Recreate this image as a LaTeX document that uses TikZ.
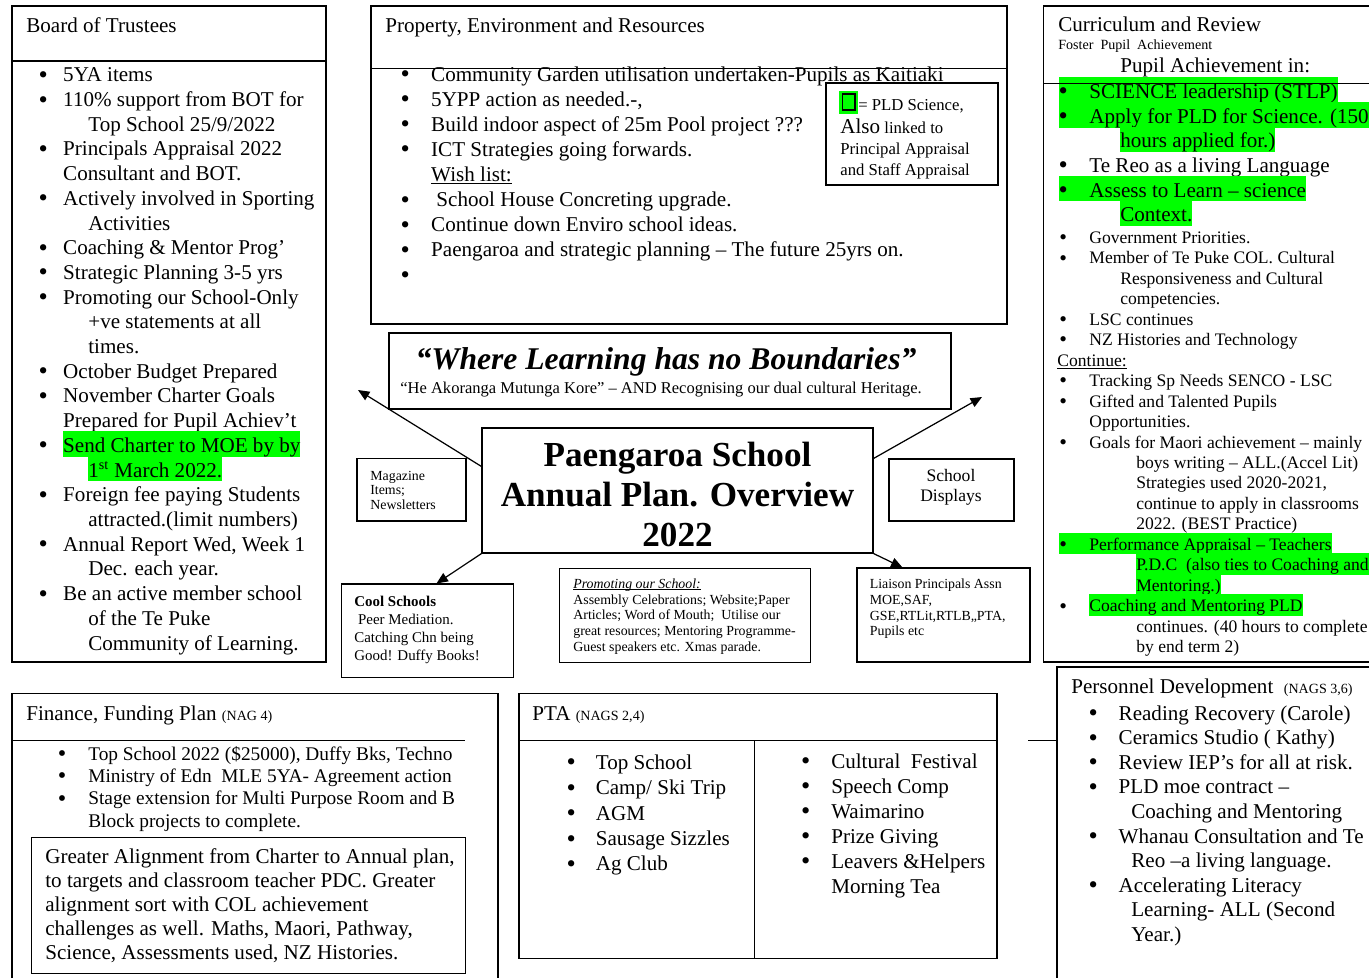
\documentclass[tikz,border=0pt]{standalone}
\usepackage{fontspec}
\setmainfont{Liberation Serif}
\usetikzlibrary{arrows.meta, positioning, calc, fit}
\definecolor{hlgreen}{RGB}{0,255,0}
\newlength{\bulw}
\newlength{\hangw}
\newcommand{\bul}{\makebox[\bulw][l]{\raisebox{-0.07em}{\scalebox{1.25}{\textbullet}}}}
\newcommand{\nobul}{\hspace*{\bulw}}
\newcommand{\ind}[1][\hangw]{\hspace*{#1}}
\newcommand{\hlt}[1]{{\setlength{\fboxsep}{0pt}\colorbox{hlgreen}{\vrule width 0pt height 0.85\baselineskip depth 0.15\baselineskip #1}}}
\newcommand{\uln}[1]{\setbox0\hbox{#1}\rlap{\rule[-0.14em]{\wd0}{0.06em}}\box0}
\setlength{\lineskiplimit}{-50pt}

\begin{document}
\begin{tikzpicture}[
  x=0.02cm, y=-0.02cm,
  panel/.style={draw, line width=0.6pt, inner sep=0pt},
  divider/.style={line width=0.6pt},
  hd/.style={anchor=base west, inner sep=0pt, font=\fontsize{12}{14}\selectfont},
  txt/.style={anchor=base west, inner sep=0pt, align=left},
  arrow/.style={-{Triangle[length=6.5pt, width=5.5pt]}, line width=0.7pt},
  bw/.code={\setlength{\bulw}{#1}},
  hw/.code={\setlength{\hangw}{#1}}
]
\useasboundingbox (0,0) rectangle (1369,978);
\fill[white] (0,0) rectangle (1369,978);

% Board of Trustees (lists sit on the baseline of their last line)
\node[panel, fit={(12,6) (326,662)}] (bot) {};
\draw[divider] (12,61) -- (326,61);
\node[hd] (bottitle) at (26,32) {Board of Trustees};
\node[txt, font=\fontsize{12}{14.06}\selectfont, bw=14pt, hw=28.3pt] (botlist) at (38.3,650) {%
\bul 5YA items\\
\bul 110\% support from BOT for\\
\ind Top School 25/9/2022\\
\bul Principals Appraisal 2022\\
\nobul Consultant and BOT.\\
\bul Actively involved in Sporting\\
\ind Activities\\
\bul Coaching \& Mentor Prog’\\
\bul Strategic Planning 3-5 yrs\\
\bul Promoting our School-Only\\
\ind +ve statements at all\\
\ind times.\\
\bul October Budget Prepared\\
\bul November Charter Goals\\
\nobul Prepared for Pupil Achiev’t\\
\bul \hlt{Send Charter to MOE by by}\\
\ind \hlt{1\textsuperscript{st} March 2022.}\\
\bul Foreign fee paying Students\\
\ind attracted.(limit numbers)\\
\bul Annual Report Wed, Week 1\\
\ind Dec. each year.\\
\bul Be an active member school\\
\ind of the Te Puke\\
\ind Community of Learning.};

% Property, Environment and Resources
\node[panel, fit={(371,6) (1007,324)}] (prop) {};
\node[hd] (proptitle) at (385,32) {Property, Environment and Resources};
\node[txt, font=\fontsize{12}{14.3}\selectfont, bw=17.4pt] (proplist) at (400.3,282) {%
\bul Community Garden utilisation undertaken-Pupils as Kaitiaki\\
\bul 5YPP action as needed.-,\\
\bul Build indoor aspect of 25m Pool project ???\\
\bul ICT Strategies going forwards.\\
\nobul \uln{Wish list:}\\
\bul\ School House Concreting upgrade.\\
\bul Continue down Enviro school ideas.\\
\bul Paengaroa and strategic planning – The future 25yrs on.\\
\bul};
\draw[divider] (371,68.3) -- (1007,68.3);
\node[panel, fit={(826,83) (998,185)}] (legend) {};
\fill[hlgreen] (839,91) rectangle (858,114);
\draw[line width=0.9pt] (842.5,94) rectangle (855,110);
\node[txt, font=\fontsize{9.5}{12}\selectfont] (legendkey) at (858,110) {= PLD Science,};
\node[txt, font=\fontsize{9.5}{12}\selectfont] (legendtext) at (840,175.2) {{\fontsize{12}{12}\selectfont Also} linked to\\Principal Appraisal\\and Staff Appraisal};

% Curriculum and Review
\draw[divider] (1369,6) -- (1043.5,6) -- (1043.5,662) -- (1369,662);
\node[hd] (curtitle) at (1058,31.7) {Curriculum and Review};
\node[txt, font=\fontsize{8}{9}\selectfont] (cursub) at (1058,49) {Foster\ \ Pupil\ \ Achievement};
\node[hd] (curlead) at (1120,72.3) {Pupil Achievement in:};
\node[txt, font=\fontsize{12}{14.06}\selectfont, bw=17.5pt, hw=35.1pt] (curlist) at (1058.3,221.9) {%
\hlt{\bul SCIENCE leadership (STLP)}\\
\hlt{\bul Apply for PLD for Science. (150}\\
\ind \hlt{hours applied for.)}\\
\bul Te Reo as a living Language\\
\hlt{\bul Assess to Learn – science}\\
\ind \hlt{Context.}};
\node[txt, font=\fontsize{10}{11.65}\selectfont, bw=17.1pt, hw=34.7pt] (curmore) at (1059,652.7) {%
\bul Government Priorities.\\
\bul Member of Te Puke COL. Cultural\\
\ind Responsiveness and Cultural\\
\ind competencies.\\
\bul LSC continues\\
\bul NZ Histories and Technology\\
\hspace*{-1.1pt}\uln{Continue:}\\
\bul Tracking Sp Needs SENCO - LSC\\
\bul Gifted and Talented Pupils\\
\nobul Opportunities.\\
\bul Goals for Maori achievement – mainly\\
\ind[43.8pt]boys writing – ALL.(Accel Lit)\\
\ind[43.8pt]Strategies used 2020-2021,\\
\ind[43.8pt]continue to apply in classrooms\\
\ind[43.8pt]2022. (BEST Practice)\\
\hlt{\bul Performance Appraisal – Teachers}\\
\ind[43.8pt]\hlt{P.D.C\ \ (also ties to Coaching and}\\
\ind[43.8pt]\hlt{Mentoring.)}\\
\bul \hlt{Coaching and Mentoring PLD}\\
\ind[43.8pt]continues. (40 hours to complete\\
\ind[43.8pt]by end term 2)};
\draw[divider] (1043.5,83.3) -- (1369,83.3);

% Motto and title
\node[panel, fit={(389,333) (951,409)}] (motto) {};
\node[txt, anchor=base, font=\fontsize{18}{20}\selectfont\bfseries\itshape] (mottotext) at (666,369.3) {“Where Learning has no Boundaries”};
\node[txt, font=\fontsize{9.4}{11}\selectfont] (mottosub) at (400,393.3) {“He Akoranga Mutunga Kore” – AND Recognising our dual cultural Heritage.};
\node[panel, fit={(482,428) (873,553)}] (title) {};
\node[txt, anchor=base, align=center, font=\fontsize{20}{22.76}\selectfont\bfseries] (titletext) at (677.5,546.7) {Paengaroa School\\Annual Plan. Overview\\2022};

% Small boxes round the title
\node[panel, fit={(357,458.5) (466,521)}] (mag) {};
\node[txt, font=\fontsize{7.9}{8.5}\selectfont] (magtext) at (370,509.9) {Magazine\\Items;\\Newsletters};
\node[panel, fit={(889,459) (1014,521)}] (disp) {};
\node[txt, anchor=base, align=center, font=\fontsize{10}{11.4}\selectfont] (disptext) at (951,501.7) {School\\Displays};
\node[panel, fit={(341.5,584) (513.7,677.7)}] (cool) {};
\node[txt, font=\fontsize{8.5}{10.3}\selectfont] (cooltext) at (354,660.3) {\textbf{Cool Schools}\\\ Peer Mediation.\\Catching Chn being\\Good! Duffy Books!};
\node[panel, fit={(559.6,568.3) (810.7,662.3)}] (promo) {};
\node[txt, font=\fontsize{7.9}{9}\selectfont] (promotext) at (573,651.6) {%
\uln{\textit{Promoting our School:}}\\
Assembly Celebrations; Website;Paper\\
Articles; Word of Mouth;\ \ Utilise our\\
great resources; Mentoring Programme-\\
Guest speakers etc. Xmas parade.};
\node[panel, fit={(857,568) (1030,662)}] (liaison) {};
\node[txt, font=\fontsize{7.9}{9}\selectfont] (liaisontext) at (869.5,635.8) {Liaison Principals Assn\\MOE,SAF,\\GSE,RTLit,RTLB,,PTA,\\Pupils etc};

% Arrows
\coordinate (tipA) at (358,390);
\coordinate (tipB) at (982,397);
\draw[arrow] ($(title.north west)+(0,39)$) -- (tipA);
\draw[arrow] ($(title.north east)+(0,31)$) -- (tipB);
\draw[arrow] (title.south west) -- ($(cool.north west)+(95.5,0)$);
\draw[arrow] (title.south east) -- ($(liaison.north west)+(46,0)$);

% Finance, Funding Plan
\draw[divider] (12,978) -- (12,693.3) -- (498,693.3) -- (498,978);
\draw[divider] (12,740.7) -- (465,740.7);
\node[hd] (fintitle) at (26,720) {Finance, Funding Plan {\fontsize{8}{9}\selectfont (NAG 4)}};
\node[txt, font=\fontsize{11}{12.75}\selectfont, bw=17.3pt] (finlist) at (57.6,827.2) {%
\bul Top School 2022 (\$25000), Duffy Bks, Techno\\
\bul Ministry of Edn\ \ MLE 5YA- Agreement action\\
\bul Stage extension for Multi Purpose Room and B\\
\nobul Block projects to complete.};
\node[panel, fit={(31.7,837.3) (465.7,973.3)}] (goal) {};
\node[txt, font=\fontsize{12}{13.55}\selectfont] (goaltext) at (45,959.2) {%
Greater Alignment from Charter to Annual plan,\\
to targets and classroom teacher PDC. Greater\\
alignment sort with COL achievement\\
challenges as well. Maths, Maori, Pathway,\\
Science, Assessments used, NZ Histories.};

% PTA
\node[panel, fit={(519,693.3) (997,958.3)}] (pta) {};
\draw[divider] (519,740.7) -- (997,740.7);
\draw[divider] (754.5,740.7) -- (754.5,958.3);
\node[hd] (ptatitle) at (532,720) {PTA {\fontsize{8}{9}\selectfont (NAGS 2,4)}};
\node[txt, font=\fontsize{12}{14.45}\selectfont, bw=16.6pt] (ptaleft) at (566.3,870.9) {%
\bul Top School\\
\bul Camp/ Ski Trip\\
\bul AGM\\
\bul Sausage Sizzles\\
\bul Ag Club};
\node[txt, font=\fontsize{12}{14.2}\selectfont, bw=17.2pt] (ptaright) at (800.7,893.1) {%
\bul Cultural\ \ Festival\\
\bul Speech Comp\\
\bul Waimarino\\
\bul Prize Giving\\
\bul Leavers \&Helpers\\
\nobul Morning Tea};

% Personnel Development
\draw[divider] (1369,667) -- (1057,667) -- (1057,978);
\draw[divider] (1028,740.7) -- (1057,740.7);
\node[hd] (pertitle) at (1071,693.3) {Personnel Development\ \ {\fontsize{8}{9}\selectfont (NAGS 3,6)}};
\node[txt, font=\fontsize{12}{14}\selectfont, bw=17.1pt, hw=24.3pt] (perlist) at (1088.3,941.4) {%
\bul Reading Recovery (Carole)\\
\bul Ceramics Studio ( Kathy)\\
\bul Review IEP’s for all at risk.\\
\bul PLD moe contract –\\
\ind Coaching and Mentoring\\
\bul Whanau Consultation and Te\\
\ind Reo –a living language.\\
\bul Accelerating Literacy\\
\ind Learning- ALL (Second\\
\ind Year.)};

\end{tikzpicture}
\end{document}
